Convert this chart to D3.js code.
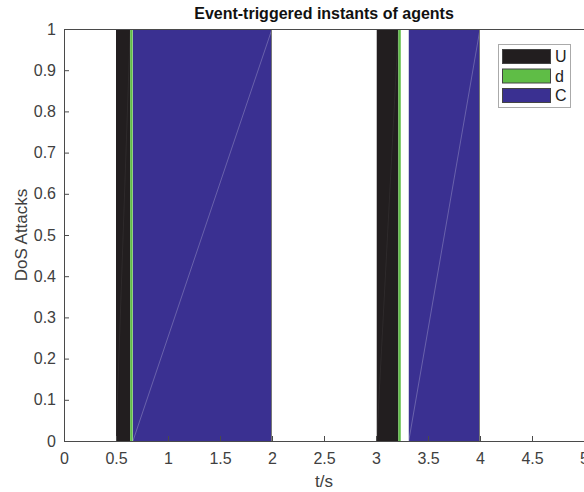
<!DOCTYPE html>
<html>
<head>
<meta charset="utf-8">
<script src="https://cdn.jsdelivr.net/npm/d3@7"></script>
<style>
  body { margin: 0; background: #fff; }
  svg { display: block; font-family: "Liberation Sans", Arial, sans-serif; }
</style>
</head>
<body>
<div id="target"></div>
<script>
// series names and the time intervals where each is active (value 1)
var seriesNames = ["U", "d", "C"];
var seriesColors = ["#221e1f", "#5fbd46", "#3a3091"];
var intervalStart = [[0.5, 3.007], [0.637, 3.215], [0.663, 3.315]];
var intervalEnd = [[0.637, 3.215], [0.66, 3.238], [2.0, 4.0]];
var xTicks = [0, 0.5, 1, 1.5, 2, 2.5, 3, 3.5, 4, 4.5, 5];
var yTicks = [0, 0.1, 0.2, 0.3, 0.4, 0.5, 0.6, 0.7, 0.8, 0.9, 1];

var WIDTH = 584, HEIGHT = 492;
var margin = {left: 64, right: 0, top: 29, bottom: 51};

var svg = d3.select("#target").append("svg").attr("width", WIDTH).attr("height", HEIGHT);

var x = d3.scaleLinear().domain([0, 5]).range([margin.left, WIDTH - margin.right]);
var y = d3.scaleLinear().domain([0, 1]).range([HEIGHT - margin.bottom, margin.top]);

var g = svg.append("g");

// filled areas
seriesNames.forEach(function(name, i) {
  intervalStart[i].forEach(function(s, k) {
    var e = intervalEnd[i][k];
    g.append("rect")
      .attr("x", x(s))
      .attr("y", y(1))
      .attr("width", x(e) - x(s))
      .attr("height", y(0) - y(1))
      .attr("fill", seriesColors[i]);
    // faint triangulation seam like the original renderer leaves
    if (name != "d") {
      g.append("line")
        .attr("x1", x(s)).attr("y1", y(0))
        .attr("x2", x(e)).attr("y2", y(1))
        .attr("stroke", "#ffffff")
        .attr("stroke-opacity", name == "C" ? 0.3 : 0.07)
        .attr("stroke-width", 0.8);
    }
    if (name == "C") {
      g.append("line")
        .attr("x1", x(e) - 0.5).attr("y1", y(0))
        .attr("x2", x(e) - 0.5).attr("y2", y(1))
        .attr("stroke", "#777")
        .attr("stroke-width", 1);
    }
  });
});

var axisColor = "#4a4a4a";
var textColor = "#404040";

// x axis (ticks inward)
var xAxis = svg.append("g")
  .attr("transform", "translate(0," + y(0) + ")")
  .call(d3.axisBottom(x).tickValues(xTicks).tickSize(-5).tickPadding(12).tickFormat(d3.format("")));
var yAxis = svg.append("g")
  .attr("transform", "translate(" + x(0) + ",0)")
  .call(d3.axisLeft(y).tickValues(yTicks).tickSize(-5).tickPadding(8).tickFormat(d3.format("")));

[xAxis, yAxis].forEach(function(a) {
  a.select(".domain").attr("stroke", axisColor);
  a.selectAll(".tick line").attr("stroke", axisColor);
  a.selectAll(".tick text").attr("fill", textColor).style("font-size", "16px")
    .style("font-family", "'Liberation Sans', Arial, sans-serif");
});

// top box line
svg.append("line")
  .attr("x1", x(0)).attr("x2", x(5))
  .attr("y1", y(1) + 0.5).attr("y2", y(1) + 0.5)
  .attr("stroke", axisColor);

// title and labels
svg.append("text")
  .attr("x", (x(0) + x(5)) / 2).attr("y", 19)
  .attr("text-anchor", "middle")
  .style("font-weight", "bold").style("font-size", "16px")
  .attr("fill", "#111")
  .text("Event-triggered instants of agents");

svg.append("text")
  .attr("x", (x(0) + x(5)) / 2).attr("y", 487)
  .attr("text-anchor", "middle")
  .style("font-size", "17px")
  .attr("fill", textColor)
  .text("t/s");

svg.append("text")
  .attr("transform", "translate(27," + ((y(0) + y(1)) / 2) + ") rotate(-90)")
  .attr("text-anchor", "middle")
  .style("font-size", "17px")
  .attr("fill", textColor)
  .text("DoS Attacks");

// legend
var legend = svg.append("g").attr("transform", "translate(498,44)");
legend.append("rect")
  .attr("x", 0.5).attr("y", 0.5)
  .attr("width", 72).attr("height", 63)
  .attr("fill", "#fff")
  .attr("stroke", "#aaa");
seriesNames.forEach(function(name, i) {
  legend.append("rect")
    .attr("x", 4.5).attr("y", 5.5 + i * 19.5)
    .attr("width", 48).attr("height", 14)
    .attr("fill", seriesColors[i])
    .attr("stroke", "#444")
    .attr("stroke-width", 1);
  legend.append("text")
    .attr("x", 57).attr("y", 18 + i * 19.5)
    .style("font-size", "16px")
    .attr("fill", "#222")
    .text(name);
});
</script>
</body>
</html>
